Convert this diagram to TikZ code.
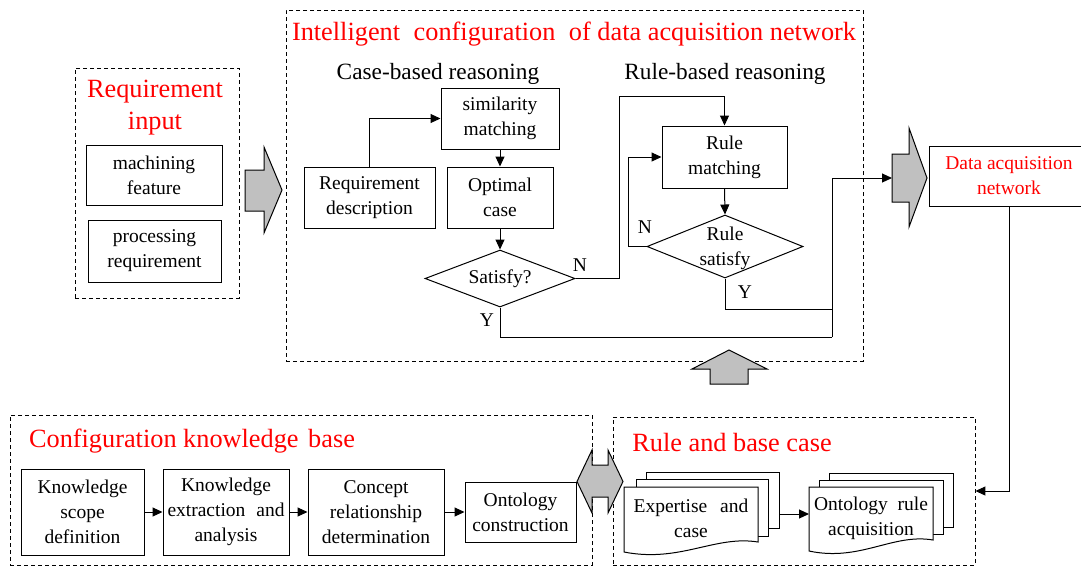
\documentclass[tikz,border=0pt]{standalone}
\usepackage{fontspec}
\setmainfont{Liberation Serif}
\usetikzlibrary{arrows.meta,shapes.geometric}
\definecolor{arrowgray}{RGB}{192,192,192}
\newcommand\fs{\fontsize{19.5}{25}\selectfont}
\tikzset{
  box/.style={draw, line width=1pt, inner sep=0pt, align=center, font=\fs, fill=white},
  dbox/.style={draw, dash pattern=on 4pt off 3pt, line width=0.9pt, inner sep=0pt},
  ttl/.style={text=red, font=\fontsize{26.3}{32}\selectfont, align=center, inner sep=0pt},
  sub/.style={font=\fontsize{23.3}{26}\selectfont, inner sep=0pt},
  lbl/.style={font=\fs, inner sep=0pt, align=center},
  arr/.style={-{Triangle[length=10pt,width=9pt]}, line width=1pt},
  ln/.style={line width=1pt},
  garrow/.style={draw, line width=1pt, fill=arrowgray, line join=miter},
}
\begin{document}
\begin{tikzpicture}[x=1pt,y=-1pt]
\useasboundingbox (0,0) rectangle (1081,566);
\clip (0,0) rectangle (1081,566);

% ---------- dashed group boxes ----------
\node[dbox, minimum width=164pt, minimum height=230pt] (reqin) at (157,183) {};
\node[dbox, minimum width=577pt, minimum height=351pt] (intel) at (574.5,185.5) {};
\node[dbox, minimum width=582pt, minimum height=150pt] (ckb) at (301,490) {};
\node[dbox, minimum width=362pt, minimum height=148pt] (rb) at (794,491) {};

% ---------- titles ----------
\node[ttl] (t1) at (155,108) {Requirement\\input};
\node[ttl] (t2) at (574,34) {Intelligent\hspace{7pt} configuration\hspace{7pt} of data acquisition network};
\node[ttl] (t3) at (192,441) {Configuration knowledge\hspace{3pt} base};
\node[ttl] (t4) at (732,442) {Rule and base case};
\node[sub] (cbr) at (438,74) {Case-based reasoning};
\node[sub] (rbr) at (725,74) {Rule-based reasoning};

% ---------- requirement input ----------
\node[box, minimum width=136pt, minimum height=60pt] (mf) at (154,175) {machining\\feature};
\node[box, minimum width=133pt, minimum height=62pt] (pr) at (154.5,251) {processing\\requirement};

% ---------- case-based reasoning ----------
\node[box, minimum width=118pt, minimum height=61pt] (sim) at (500,118.5) {similarity\\matching};
\node[box, minimum width=131pt, minimum height=61pt] (rd) at (369.5,197.5) {Requirement\\description};
\node[box, minimum width=106pt, minimum height=61pt] (opt) at (500,197.5) {Optimal\\case};
\node[draw, line width=1pt, diamond, inner sep=0pt, minimum width=150pt, minimum height=57pt] (sat) at (500,278.5) {};
\node[lbl] (satt) at (500,278.5) {Satisfy?};

% ---------- rule-based reasoning ----------
\node[box, minimum width=125pt, minimum height=62pt] (rm) at (724.5,157) {Rule\\matching};
\node[draw, line width=1pt, diamond, inner sep=0pt, minimum width=156pt, minimum height=63pt] (rs) at (725,246.5) {};
\node[lbl] (rst) at (725,248) {Rule\\satisfy};

% ---------- data acquisition network ----------
\node[box, text=red, minimum width=160pt, minimum height=60pt] (dan) at (1009,176) {Data acquisition\\network};

% ---------- connectors (case based) ----------
\draw[arr] (rd.north) |- (sim.west);
\draw[arr] (sim.south) -- (opt.north);
\draw[arr] (opt.south) -- (sat.north);
\coordinate (n1) at (619,96);
\draw[arr] (sat.east) -| (n1) -| (rm.north);
\node[lbl] (nl1) at (580,265) {N};
\draw[arr] (rm.south) -- (rs.north);
\coordinate (n2) at (628,157);
\draw[arr] (rs.west) -| (n2) -- (rm.west);
\node[lbl] (nl2) at (645,227) {N};
\coordinate (j1) at (832,309);
\draw[ln] (rs.south) |- (j1);
\node[lbl] (yl1) at (745,292) {Y};
\coordinate (j2) at (832,337);
\coordinate (gaw) at (892,178);
\draw[ln] (sat.south) |- (j2);
\draw[arr] (j2) |- (gaw);
\node[lbl] (yl2) at (487,320) {Y};

% ---------- gray block arrows ----------
\draw[garrow] (245,170) -- (264,170) -- (264,147) -- (282,190) -- (264,233) -- (264,211) -- (245,211) -- cycle;
\draw[garrow] (892,154) -- (909,154) -- (909,128) -- (927,178) -- (909,227) -- (909,202) -- (892,202) -- cycle;
\draw[garrow] (729,350) -- (767,369) -- (748,369) -- (748,384) -- (710,384) -- (710,369) -- (692,369) -- cycle;
\draw[garrow] (577,481.5) -- (592,450) -- (592,465) -- (608,465) -- (608,450) -- (623,481.5) -- (608,513) -- (608,497) -- (592,497) -- (592,513) -- cycle;

% ---------- data network to rule base ----------
\draw[arr] (dan.south) |- (rb.east);

% ---------- configuration knowledge base ----------
\node[box, minimum width=123pt, minimum height=86pt] (ks) at (82.5,512) {Knowledge\\scope\\definition};
\node[box, minimum width=126pt, minimum height=86pt] (ke) at (226,512) {Knowledge\\extraction\hspace{6pt} and\\analysis};
\node[box, minimum width=136pt, minimum height=86pt] (cr) at (376,512) {Concept\\relationship\\determination};
\node[box, minimum width=111pt, minimum height=60pt] (oc) at (520.5,512) {Ontology\\construction};
\draw[arr] (ks.east) -- (ke.west);
\draw[arr] (ke.east) -- (cr.west);
\draw[arr] (cr.east) -- (oc.west);

% ---------- rule and base case documents ----------
\draw[ln, fill=white] (646,472) rectangle (779,528);
\draw[ln, fill=white] (636,479) rectangle (768,536);
\draw[ln, fill=white] (624,487) -- (758,487) -- (758,542) .. controls (715,535) and (680,563) .. (624,552) -- cycle;
\node[lbl] (ex) at (691,518) {Expertise\hspace{8pt} and\\case};

\draw[ln, fill=white] (829,473) rectangle (953,527);
\draw[ln, fill=white] (819,480) rectangle (943,534);
\draw[ln, fill=white] (809,487) -- (933,487) -- (933,540) .. controls (893,533) and (860,562) .. (809,551) -- cycle;
\node[lbl] (ora) at (871,518) {Ontology\hspace{5pt} rule\\acquisition};

\coordinate (exr) at (779,514);
\coordinate (orl) at (809,514);
\draw[arr] (exr) -- (orl);
\end{tikzpicture}
\end{document}
